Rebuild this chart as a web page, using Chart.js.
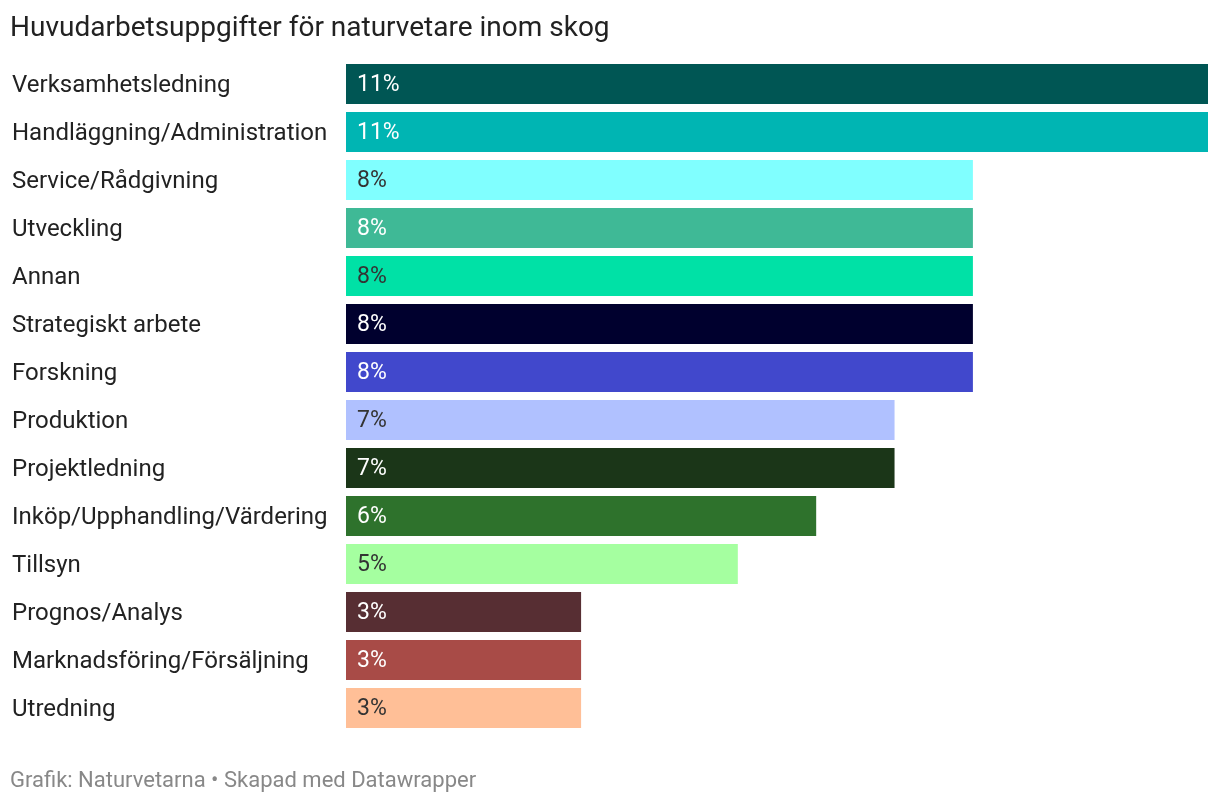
<!DOCTYPE html>
<html>
<head>
<meta charset="utf-8">
<script src="https://cdn.jsdelivr.net/npm/chart.js@4"></script>
<style>
  html, body { margin: 0; padding: 0; background: #fff; }
  #wrap { position: relative; width: 1220px; height: 804px; font-family: Roboto, sans-serif; }
  #chart { position: absolute; left: 0; top: 0; }
  #title { position: absolute; left: 10px; top: 10px; font-size: 28px; line-height: 34px; color: #222; white-space: nowrap; }
  #footer { position: absolute; left: 10px; top: 766px; font-size: 22px; line-height: 28px; color: #888; white-space: nowrap; }
</style>
</head>
<body>
<div id="wrap">
  <canvas id="chart" width="1220" height="804"></canvas>
  <div id="title">Huvudarbetsuppgifter för naturvetare inom skog</div>
  <div id="footer">Grafik: Naturvetarna • Skapad med Datawrapper</div>
</div>
<script>
  // categories and values (percent)
  const categories = [
    'Verksamhetsledning', 'Handläggning/Administration', 'Service/Rådgivning', 'Utveckling',
    'Annan', 'Strategiskt arbete', 'Forskning', 'Produktion', 'Projektledning',
    'Inköp/Upphandling/Värdering', 'Tillsyn', 'Prognos/Analys',
    'Marknadsföring/Försäljning', 'Utredning'
  ];
  const values = [11, 11, 8, 8, 8, 8, 8, 7, 7, 6, 5, 3, 3, 3];
  const barColors = [
    '#005654', '#00b5b3', '#80ffff', '#3fb996', '#00e1a6', '#00002e', '#4148cc',
    '#b0c1ff', '#1b3618', '#2e722c', '#a5ffa0', '#572e33', '#a84b47', '#ffbf97'
  ];
  const valueColors = [
    '#fff', '#fff', '#333', '#fff', '#333', '#fff', '#fff',
    '#333', '#fff', '#fff', '#333', '#fff', '#fff', '#333'
  ];

  // draws the "11%" labels inside each bar
  const valueLabels = {
    id: 'valueLabels',
    afterDatasetsDraw(chart) {
      const ctx = chart.ctx;
      const meta = chart.getDatasetMeta(0);
      ctx.save();
      ctx.font = '23px Roboto, sans-serif';
      ctx.textAlign = 'left';
      ctx.textBaseline = 'middle';
      meta.data.forEach(function(bar, i) {
        ctx.fillStyle = valueColors[i];
        ctx.fillText(values[i] + '%', bar.base + 11, bar.y + 1);
      });
      ctx.restore();
    }
  };

  new Chart(document.getElementById('chart'), {
    type: 'bar',
    data: {
      labels: categories,
      datasets: [{
        data: values,
        backgroundColor: barColors,
        borderWidth: 0,
        barPercentage: 40 / 48,
        categoryPercentage: 1
      }]
    },
    options: {
      indexAxis: 'y',
      responsive: false,
      animation: false,
      devicePixelRatio: 1,
      layout: { padding: { left: 12, right: 12, top: 60, bottom: 72 } },
      scales: {
        x: { display: false, min: 0, max: 11 },
        y: {
          grid: { display: false },
          border: { display: false },
          ticks: {
            crossAlign: 'far',
            color: '#222',
            font: { family: 'Roboto', size: 24 },
            padding: 0,
            labelOffset: 2
          },
          afterFit: function(scale) { scale.width = 334; }
        }
      },
      plugins: {
        legend: { display: false },
        tooltip: { enabled: false }
      }
    },
    plugins: [valueLabels]
  });
</script>
</body>
</html>
